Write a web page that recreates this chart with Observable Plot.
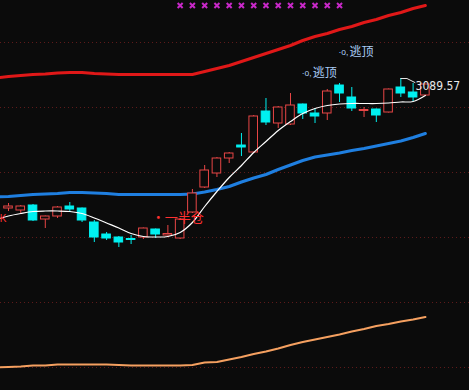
<!DOCTYPE html>
<html>
<head>
<meta charset="utf-8">
<script src="https://cdn.jsdelivr.net/npm/d3@7"></script>
<script src="https://cdn.jsdelivr.net/npm/@observablehq/plot@0.6"></script>
<style>
html,body{margin:0;padding:0;background:#0b0b0b;}
#chart{width:469px;height:390px;overflow:hidden;}
</style>
</head>
<body>
<div id="chart"></div>
<script>
// ---- candle data (price) ----
const candleIdx = [0,1,2,3,4,5,6,7,8,9,10,11,12,13,14,15,16,17,18,19,20,21,22,23,24,25,26,27,28,29,30,31,32,33,34];
const openP  = [2933.6,2931.2,2937.2,2920.4,2924.0,2936.0,2933.6,2916.8,2902.4,2898.8,2897.0,2898.8,2908.4,2901.2,2897.6,2928.8,2958.8,2975.6,2993.6,3009.2,3000.8,3050.0,3035.6,3034.4,3058.4,3047.6,3047.6,3081.2,3066.8,3050.6,3052.4,3048.8,3078.8,3072.8,3069.2];
const closeP = [2936.0,2936.0,2919.2,2924.0,2934.8,2932.4,2919.2,2898.8,2897.6,2892.8,2895.8,2909.6,2902.4,2903.0,2920.4,2951.6,2979.2,2993.6,2999.6,3006.8,3044.0,3036.8,3054.8,3057.2,3047.6,3044.0,3074.0,3071.6,3053.6,3051.8,3045.2,3076.4,3071.6,3066.8,3082.4];
const highP  = [2939.6,2937.2,2938.4,2924.6,2936.0,2940.8,2934.2,2919.2,2904.8,2900.0,2901.2,2910.2,2909.0,2913.2,2921.6,2956.4,2985.2,2994.8,3000.8,3023.6,3045.2,3065.6,3056.0,3071.6,3059.0,3053.6,3076.4,3083.6,3078.8,3054.8,3053.0,3077.0,3089.57,3083.6,3082.4];
const lowP   = [2930.0,2927.6,2918.0,2909.6,2921.6,2928.8,2916.8,2892.8,2895.2,2886.8,2890.4,2896.4,2897.6,2900.6,2896.4,2927.6,2957.6,2970.8,2987.6,2996.0,2999.6,3033.2,3029.6,3033.2,3040.4,3035.6,3039.2,3060.8,3050.0,3042.8,3036.8,3048.2,3066.8,3062.0,3068.6];

// ---- indicator lines (index -1 .. 34) ----
const lineIdx = [-1,0,1,2,3,4,5,6,7,8,9,10,11,12,13,14,15,16,17,18,19,20,21,22,23,24,25,26,27,28,29,30,31,32,33,34];
const upperBand = [3090.2,3092.0,3093.2,3094.4,3095.0,3096.2,3096.8,3096.8,3095.6,3095.0,3094.4,3094.4,3094.4,3094.4,3094.4,3094.4,3094.4,3098.0,3101.6,3105.2,3110.0,3114.8,3119.6,3124.4,3129.2,3135.2,3140.0,3143.6,3148.4,3152.0,3156.8,3160.4,3165.2,3168.8,3173.6,3177.2];
const midBand   = [2947.4,2948.0,2949.2,2950.4,2951.0,2951.6,2952.8,2952.8,2952.2,2951.6,2950.4,2950.4,2950.4,2950.4,2950.4,2950.4,2951.0,2953.4,2956.4,2960.0,2965.4,2970.2,2974.4,2980.4,2985.8,2991.2,2995.4,2997.8,3000.2,3003.2,3005.6,3008.6,3011.6,3014.6,3018.8,3023.6];
const lowerBand = [2743.0,2743.4,2744.0,2745.2,2745.2,2746.4,2746.4,2746.4,2746.4,2746.4,2745.8,2745.2,2745.2,2745.2,2745.2,2745.2,2745.8,2748.8,2749.4,2752.4,2755.4,2759.0,2762.0,2765.6,2769.8,2773.4,2776.4,2779.4,2782.4,2786.0,2789.0,2792.6,2795.0,2798.0,2800.4,2803.4];
const maLine    = [2920.4,2924.6,2927.6,2930.0,2930.6,2930.6,2930.0,2927.6,2922.2,2916.2,2910.2,2903.6,2900.0,2899.4,2900.0,2904.8,2916.8,2936.0,2954.0,2970.8,2985.2,3000.8,3014.0,3027.2,3038.0,3047.6,3053.6,3057.2,3059.0,3059.6,3059.6,3059.6,3060.2,3061.4,3062.0,3069.2];

// ---- grid & signals ----
const gridPrices = [3132.8,3054.8,2976.8,2898.8,2820.8,2742.8];
const signalIdx = [14,15,16,17,18,19,20,21,22,23,24,25,26,27];
const escapeIdx = [24,27];
const escapePrefix = ["·o,","·o,"];
const escapeText = ["逃顶","逃顶"];
const halfIdx = [12];
const halfText = ["·一半仓"];
const edgeMark = [{i:-0.45, p:2921.6, t:"K"}];

const BG = "#0b0b0b", RED = "#e84646", CYAN = "#00f0f0";
const yDomain = [2715.2, 3183.2];
const pxPrice = (yDomain[1]-yDomain[0])/390;

const candles = candleIdx.map(i => ({i, o: openP[i], c: closeP[i], h: highP[i], l: lowP[i], up: closeP[i] >= openP[i]}));
const hiI = d3.maxIndex(highP);
const hiV = highP[hiI];
const leader = [{x: hiI, y: hiV}, {x: hiI + 0.5, y: hiV}, {x: hiI + 1.15, y: hiV - 4*pxPrice}];

const chart = Plot.plot({
  width: 469, height: 390,
  marginTop: 0, marginBottom: 0, marginLeft: 0, marginRight: 0,
  x: {domain: [-0.6525, 37.6], axis: null},
  y: {domain: yDomain, axis: null},
  color: {type: "identity"},
  style: {background: BG, overflow: "hidden"},
  marks: [
    Plot.ruleY(gridPrices, {stroke: "#5e1a1a", strokeDasharray: "1,3", strokeWidth: 1}),
    Plot.line(lineIdx, {x: d => d, y: (d,k) => upperBand[k], stroke: "#e01818", strokeWidth: 3}),
    Plot.line(lineIdx, {x: d => d, y: (d,k) => midBand[k], stroke: "#1f7fe0", strokeWidth: 3}),
    Plot.line(lineIdx, {x: d => d, y: (d,k) => lowerBand[k], stroke: "#f5a060", strokeWidth: 2.2}),
    Plot.ruleX(candles, {x: "i", y1: "l", y2: "h", stroke: d => d.up ? RED : CYAN, strokeWidth: 1}),
    Plot.rect(candles, {x1: d => d.i - 0.35, x2: d => d.i + 0.35, y1: "o", y2: "c",
      fill: d => d.up ? BG : CYAN, stroke: d => d.up ? RED : CYAN, strokeWidth: 1}),
    Plot.line(lineIdx, {x: d => d, y: (d,k) => maLine[k], stroke: "#ffffff", strokeWidth: 1.2, curve: "catmull-rom"}),
    Plot.dot(signalIdx, {x: d => d, frameAnchor: "top", dy: 5, symbol: "times", r: 2.4, stroke: "#c828c8", strokeWidth: 2}),
    Plot.text(escapeIdx, {x: d => d, y: d => highP[d], text: (d,k) => escapePrefix[k], dy: -31, dx: -1,
      textAnchor: "start", lineAnchor: "middle", fill: "#aacbf5", fontSize: 8.5, fontFamily: "Liberation Sans"}),
    Plot.text(escapeIdx, {x: d => d, y: d => highP[d], text: (d,k) => escapeText[k], dy: -31, dx: 10,
      textAnchor: "start", lineAnchor: "middle", fill: "#aacbf5", fontSize: 12, fontFamily: "Noto Sans CJK SC"}),
    Plot.text(halfIdx, {x: d => d, y: d => highP[d], text: (d,k) => halfText[k], dy: -11, dx: -4,
      textAnchor: "start", lineAnchor: "middle", fill: "#ff3030", fontSize: 13, fontFamily: "Noto Sans CJK SC"}),
    Plot.text(edgeMark, {x: "i", y: "p", text: "t", textAnchor: "middle", lineAnchor: "middle",
      fill: "#ff3030", fontSize: 10, fontFamily: "Liberation Sans"}),
    Plot.line(leader, {x: "x", y: "y", stroke: "#e8e8e8", strokeWidth: 1}),
    Plot.text([hiV], {x: hiI + 1.2, y: d => d, text: d => d.toFixed(2), dy: 8,
      textAnchor: "start", lineAnchor: "middle", fill: "#e8e8e8", fontSize: 12, fontFamily: "DejaVu Sans Condensed, Liberation Sans"})
  ]
});
document.getElementById("chart").appendChild(chart);
</script>
</body>
</html>
